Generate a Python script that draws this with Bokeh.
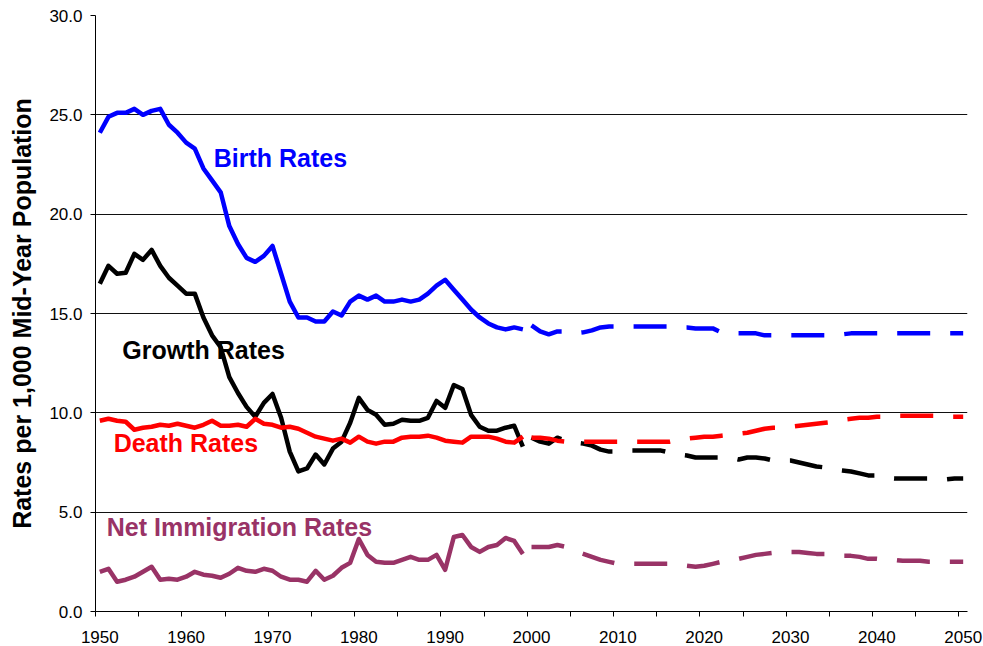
from bokeh.plotting import figure
from bokeh.models import Range1d, FixedTicker, PrintfTickFormatter
from bokeh.core.properties import value
from bokeh.embed import file_html
from bokeh.resources import INLINE

# ---------------- data ----------------
years_hist = list(range(1950, 2000))
years_proj = list(range(2000, 2051))

birth_hist = [24.1, 24.9, 25.1, 25.1, 25.3, 25.0, 25.2, 25.3, 24.5, 24.1,
              23.6, 23.3, 22.3, 21.7, 21.1, 19.4, 18.5, 17.8, 17.6, 17.9,
              18.4, 17.0, 15.6, 14.8, 14.8, 14.6, 14.6, 15.1, 14.9, 15.6,
              15.9, 15.7, 15.9, 15.6, 15.6, 15.7, 15.6, 15.7, 16.0, 16.4,
              16.7, 16.2, 15.7, 15.2, 14.8, 14.5, 14.3, 14.2, 14.3, 14.2]
birth_proj = [14.4, 14.1, 13.95, 14.1, 14.1, 14.0, 14.05, 14.15, 14.3, 14.35,
              14.35, 14.35, 14.35, 14.35, 14.35, 14.35, 14.35, 14.3, 14.3, 14.25,
              14.25, 14.25, 14.05, 14.0, 14.0, 14.0, 14.0, 13.9, 13.9, 13.9,
              13.9, 13.9, 13.9, 13.9, 13.9, 13.9, 13.95, 14.0, 14.0, 14.0,
              14.0, 14.0, 14.0, 14.0, 14.0, 14.0, 14.0, 14.0, 14.0, 14.0, 14.0]

growth_hist = [16.5, 17.4, 17.0, 17.05, 18.0, 17.7, 18.2, 17.4, 16.8, 16.4,
               16.0, 16.0, 14.8, 13.9, 13.3, 11.8, 11.0, 10.3, 9.8, 10.5,
               10.95, 9.75, 8.05, 7.05, 7.2, 7.9, 7.4, 8.2, 8.55, 9.5,
               10.75, 10.15, 9.9, 9.4, 9.45, 9.65, 9.6, 9.6, 9.75, 10.6,
               10.25, 11.4, 11.2, 9.9, 9.3, 9.1, 9.1, 9.25, 9.35, 8.3]
growth_proj = [8.75, 8.55, 8.45, 8.75, 8.6, 8.5, 8.45, 8.35, 8.15, 8.05,
               8.05, 8.1, 8.1, 8.1, 8.1, 8.1, 8.0, 7.9, 7.85, 7.75,
               7.75, 7.75, 7.75, 7.75, 7.65, 7.75, 7.75, 7.7, 7.6, 7.6,
               7.6, 7.5, 7.4, 7.3, 7.25, 7.15, 7.1, 7.05, 6.95, 6.85,
               6.85, 6.75, 6.7, 6.7, 6.7, 6.7, 6.7, 6.7, 6.65, 6.7, 6.7]

death_hist = [9.6, 9.7, 9.6, 9.55, 9.15, 9.25, 9.3, 9.4, 9.35, 9.45,
              9.35, 9.25, 9.4, 9.6, 9.35, 9.35, 9.4, 9.3, 9.7, 9.45,
              9.4, 9.25, 9.3, 9.2, 9.0, 8.8, 8.7, 8.6, 8.7, 8.5,
              8.8, 8.55, 8.45, 8.55, 8.55, 8.75, 8.8, 8.8, 8.85, 8.75,
              8.6, 8.55, 8.5, 8.8, 8.8, 8.8, 8.7, 8.55, 8.5, 8.8]
death_proj = [8.75, 8.75, 8.7, 8.6, 8.55, 8.55, 8.55, 8.55, 8.55, 8.55,
              8.55, 8.55, 8.55, 8.55, 8.55, 8.55, 8.55, 8.65, 8.7, 8.75,
              8.8, 8.8, 8.85, 8.9, 8.95, 9.0, 9.1, 9.2, 9.25, 9.25,
              9.3, 9.35, 9.4, 9.45, 9.5, 9.55, 9.65, 9.7, 9.75, 9.75,
              9.8, 9.8, 9.85, 9.85, 9.85, 9.85, 9.85, 9.85, 9.8, 9.8, 9.8]

immig_hist = [2.0, 2.15, 1.5, 1.6, 1.75, 2.0, 2.25, 1.6, 1.65, 1.6,
              1.75, 2.0, 1.85, 1.8, 1.7, 1.9, 2.2, 2.05, 2.0, 2.15,
              2.05, 1.75, 1.6, 1.6, 1.5, 2.05, 1.6, 1.8, 2.2, 2.45,
              3.65, 2.85, 2.5, 2.45, 2.45, 2.6, 2.75, 2.6, 2.6, 2.85,
              2.1, 3.75, 3.85, 3.25, 3.0, 3.25, 3.35, 3.7, 3.55, 2.9]
immig_proj = [3.25, 3.25, 3.25, 3.35, 3.25, 3.05, 2.9, 2.75, 2.6, 2.5,
              2.4, 2.4, 2.4, 2.4, 2.4, 2.4, 2.4, 2.4, 2.3, 2.25,
              2.3, 2.4, 2.5, 2.6, 2.65, 2.75, 2.85, 2.9, 2.95, 2.95,
              3.0, 3.0, 2.95, 2.9, 2.9, 2.85, 2.8, 2.8, 2.75, 2.65,
              2.65, 2.6, 2.6, 2.55, 2.55, 2.55, 2.5, 2.5, 2.5, 2.5, 2.5]

label_years = [1950, 1960, 1970, 1980, 1990, 2000, 2010, 2020, 2030, 2040, 2050]
y_ticks = [0, 5, 10, 15, 20, 25, 30]

series_names = ["Birth Rates", "Growth Rates", "Death Rates", "Net Immigration Rates"]
series_colors = ["#0000FF", "#000000", "#FF0000", "#993366"]
y_title = "Rates per 1,000 Mid-Year Population"

# ---------------- figure ----------------
FONT = "Liberation Sans"
p = figure(width=983, height=646, output_backend="svg", toolbar_location=None,
           x_range=Range1d(1949.5, 2050.5), y_range=Range1d(0, 30),
           min_border_left=95, min_border_right=16, min_border_top=15,
           min_border_bottom=35)
p.outline_line_color = None
p.background_fill_color = "white"
p.border_fill_color = "white"
p.xgrid.visible = False
p.ygrid.grid_line_color = "#111111"
p.ygrid.grid_line_width = 1

# x axis: labels at category centres, tick marks at category boundaries
xa = p.xaxis[0]
xa.ticker = FixedTicker(ticks=label_years,
                        minor_ticks=[label_years[0] - 0.5 + 5 * k for k in range(21)])
xa.major_tick_out = 0
xa.major_tick_in = 0
xa.minor_tick_out = 5
xa.minor_tick_in = 0
xa.minor_tick_line_color = "black"
xa.axis_line_color = "black"
xa.major_label_standoff = 14
xa.major_label_text_font = FONT
xa.major_label_text_font_size = "17px"
xa.major_label_text_color = "black"

ya = p.yaxis[0]
ya.ticker = FixedTicker(ticks=y_ticks)
ya.formatter = PrintfTickFormatter(format="%.1f")
ya.major_tick_out = 5
ya.major_tick_in = 0
ya.minor_tick_out = 0
ya.minor_tick_in = 0
ya.major_tick_line_color = "black"
ya.axis_line_color = "black"
ya.major_label_standoff = 8
ya.major_label_text_font = FONT
ya.major_label_text_font_size = "17px"
ya.major_label_text_color = "black"
ya.axis_label = y_title
ya.axis_label_text_font = FONT
ya.axis_label_text_font_style = "bold"
ya.axis_label_text_font_size = "25px"
ya.axis_label_text_color = "black"
ya.axis_label_standoff = 10

# ---------------- lines ----------------
hist = [birth_hist, growth_hist, death_hist, immig_hist]
proj = [birth_proj, growth_proj, death_proj, immig_proj]
order = [1, 0, 2, 3]
for i in order:
    p.line(years_hist, hist[i], line_color=series_colors[i], line_width=4.5,
           line_join="round")
    p.line(years_proj, proj[i], line_color=series_colors[i], line_width=4.5,
           line_join="round", line_dash="33 20")

# ---------------- series labels ----------------
label_x = [1963.2, 1952.6, 1951.6, 1950.8]
label_y = [22.85, 13.17, 8.47, 4.23]
for i in range(4):
    p.text(x=[label_x[i]], y=[label_y[i]], text=[series_names[i]],
           text_color=series_colors[i], text_font=value(FONT),
           text_font_style="bold", text_font_size="25px",
           text_align="left", text_baseline="alphabetic")

open("out.html", "w").write(file_html(p, INLINE))
